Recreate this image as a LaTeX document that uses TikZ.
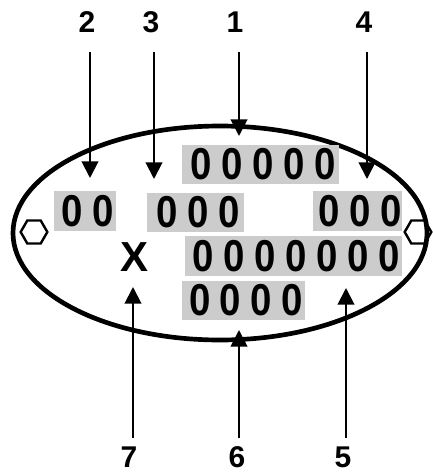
\documentclass[tikz,border=0pt]{standalone}
\usepackage{fontspec}
\setmainfont{Liberation Sans}
\newfontfamily\digfont[FakeStretch=0.86,LetterSpace=21.5]{Liberation Sans}
\usetikzlibrary{shapes.geometric,arrows.meta}

\tikzset{
  pointer/.style={line width=1.5pt,-{Triangle[width=12.5pt,length=12.5pt]}},
  numlabel/.style={font=\fontsize{22.5}{27}\selectfont\bfseries,inner sep=0pt},
  field/.style={fill=gray!40,inner sep=0pt,font=\digfont\fontsize{33.5}{38}\selectfont\bfseries},
  bolt/.style={draw,regular polygon,regular polygon sides=6,minimum size=20pt,line width=1.8pt,inner sep=0pt},
}

\begin{document}
\begin{tikzpicture}[x=0.75pt,y=-0.75pt]
\useasboundingbox (0,0) rectangle (432,474);

% plate
\draw[line width=3.5pt] (220,233) ellipse [x radius=207,y radius=107];
\node[bolt] (boltL) at (34,232) {};
\node[bolt] (boltR) at (418,232) {};

% fields
\node[field,minimum width=157*0.75pt,minimum height=39*0.75pt] (f1) at (260.5,164.5) {\hspace{4pt}00000};
\node[field,minimum width=62*0.75pt,minimum height=40*0.75pt] (f2) at (85,211) {\hspace{4pt}00};
\node[field,minimum width=97*0.75pt,minimum height=39*0.75pt] (f3) at (195.5,212.5) {\hspace{4pt}000};
\node[field,minimum width=89*0.75pt,minimum height=40*0.75pt] (f4) at (357.5,211) {\hspace{4pt}000};
\node[field,minimum width=217*0.75pt,minimum height=40*0.75pt] (f5) at (293.5,256) {\hspace{4pt}0000000};
\node[field,minimum width=123*0.75pt,minimum height=39*0.75pt] (f6) at (243.5,300.5) {\hspace{4pt}0000};
\node[font=\fontsize{31.5}{36}\selectfont\bfseries,inner sep=0pt] (fx) at (135,257) {X};

% numbers
\node[numlabel] (l2) at (87,22.5) {2};
\node[numlabel] (l3) at (151,22.5) {3};
\node[numlabel] (l1) at (235,22.5) {1};
\node[numlabel] (l4) at (364,22.5) {4};
\node[numlabel] (l7) at (129,457) {7};
\node[numlabel] (l6) at (237,457) {6};
\node[numlabel] (l5) at (343,457) {5};

% pointers
\coordinate (s2) at (90,52);  \coordinate (a2) at (90,178);
\coordinate (s3) at (154,52); \coordinate (a3) at (154,179);
\coordinate (s1) at (239,52); \coordinate (a1) at (239,136);
\coordinate (s4) at (367,52); \coordinate (a4) at (367,179);
\coordinate (s7) at (133,438); \coordinate (a7) at (133,287);
\coordinate (s6) at (239,438); \coordinate (a6) at (239,330);
\coordinate (s5) at (346,438); \coordinate (a5) at (346,288);
\draw[pointer] (s2)--(a2);
\draw[pointer] (s3)--(a3);
\draw[pointer] (s1)--(a1);
\draw[pointer] (s4)--(a4);
\draw[pointer] (s7)--(a7);
\draw[pointer] (s6)--(a6);
\draw[pointer] (s5)--(a5);

\end{tikzpicture}
\end{document}
